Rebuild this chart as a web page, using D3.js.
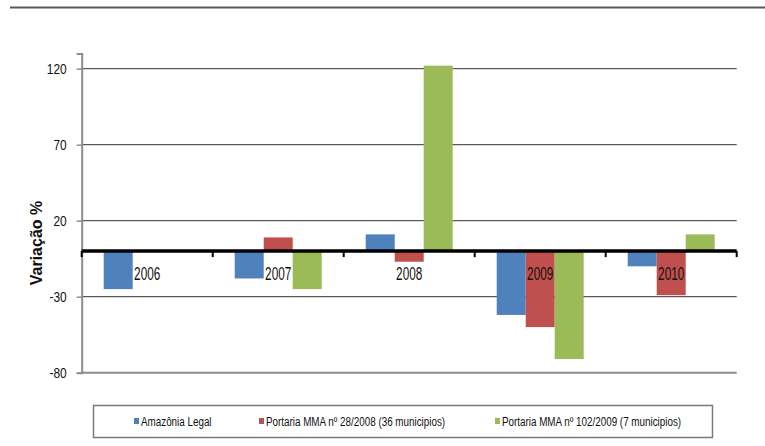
<!DOCTYPE html>
<html>
<head>
<meta charset="utf-8">
<script src="https://cdn.jsdelivr.net/npm/d3@7"></script>
<style>
  html, body { margin: 0; padding: 0; background: #fff; }
  svg { display: block; }
  text { font-family: Arial, "Liberation Sans", sans-serif; }
</style>
</head>
<body>
<svg id="chart" width="765" height="446"></svg>
<script>
const categories = ["2006", "2007", "2008", "2009", "2010"];
const seriesNames = [
  "Amazônia Legal",
  "Portaria MMA nº 28/2008 (36 municipios)",
  "Portaria MMA nº 102/2009 (7 municipios)"
];
const amazoniaLegal = [-25, -18, 11, -42, -10];
const portaria28 = [null, 9, -7, -50, -29];
const portaria102 = [null, -25, 122, -71, 11];
const yTicks = [-80, -30, 20, 70, 120];
const colors = ["#4F81BD", "#C0504D", "#9BBB59"];

const seriesValues = [amazoniaLegal, portaria28, portaria102];

const svg = d3.select("#chart");

// top rule
svg.append("line").attr("x1", 10).attr("x2", 765).attr("y1", 7.5).attr("y2", 7.5)
  .attr("stroke", "#5a5a5a").attr("stroke-width", 2);

const plotLeft = 81.7, plotRight = 736.7, plotTop = 53.5, plotBottom = 372.7;

const y = d3.scaleLinear().domain([-80, 130]).range([plotBottom, plotTop]);
const x0 = d3.scaleBand().domain(categories).range([plotLeft, plotRight])
  .paddingInner(0.336).paddingOuter(0.168);
const x1 = d3.scaleBand().domain(d3.range(seriesNames.length)).range([0, x0.bandwidth()]);

// gridlines
svg.append("g").selectAll("line").data(yTicks.filter(t => t !== -80)).join("line")
  .attr("x1", plotLeft).attr("x2", plotRight)
  .attr("y1", d => y(d)).attr("y2", d => y(d))
  .attr("stroke", "#333").attr("stroke-width", 1);

// bottom axis line at -80
svg.append("line").attr("x1", plotLeft).attr("x2", plotRight)
  .attr("y1", y(-80)).attr("y2", y(-80))
  .attr("stroke", "#8c8c8c").attr("stroke-width", 2);

// y axis
const yAxis = d3.axisLeft(y).tickValues(yTicks).tickSize(5).tickPadding(10)
  .tickFormat(d => String(d));
const gy = svg.append("g").attr("transform", `translate(${plotLeft},0)`).call(yAxis);
gy.select(".domain").attr("stroke", "#8c8c8c").attr("stroke-width", 2);
gy.selectAll(".tick line").attr("stroke", "#8c8c8c").attr("stroke-width", 1.5);
gy.selectAll(".tick text")
  .attr("font-size", 14).attr("fill", "#111")
  .attr("font-family", "Arial, 'Liberation Sans', sans-serif")
  .each(function () {
    const t = d3.select(this);
    const xx = +t.attr("x");
    t.attr("x", null).attr("transform", `translate(${xx},0) scale(0.85,1)`);
  });

// bars
const groups = svg.append("g").selectAll("g").data(categories).join("g")
  .attr("transform", d => `translate(${x0(d)},0)`);
groups.selectAll("rect")
  .data((c, i) => seriesValues.map((s, k) => ({ k, v: s[i] })).filter(d => d.v !== null))
  .join("rect")
  .attr("x", d => x1(d.k))
  .attr("width", x1.bandwidth())
  .attr("y", d => Math.min(y(d.v), y(0)))
  .attr("height", d => Math.abs(y(d.v) - y(0)))
  .attr("fill", d => colors[d.k]);

// zero axis (thick) with category tick marks
svg.append("line").attr("x1", plotLeft).attr("x2", plotRight)
  .attr("y1", y(0)).attr("y2", y(0))
  .attr("stroke", "#000").attr("stroke-width", 3.5);
const boundaries = categories.map(c => x0(c) - x0.step() * x0.paddingInner() / 2).concat([plotRight]);
svg.append("g").selectAll("line").data(boundaries).join("line")
  .attr("x1", d => d).attr("x2", d => d)
  .attr("y1", y(0)).attr("y2", y(0) + 6)
  .attr("stroke", "#000").attr("stroke-width", 2);

// category labels
svg.append("g").selectAll("text").data(categories).join("text")
  .attr("transform", d => `translate(${x0(d) + x0.bandwidth() / 2},${y(0) + 29}) scale(0.62,1)`)
  .attr("text-anchor", "middle")
  .attr("font-size", 19).attr("fill", "#111")
  .text(d => d);

// y title
svg.append("text")
  .attr("transform", "translate(42,243) rotate(-90)")
  .attr("text-anchor", "middle")
  .attr("font-size", 16).attr("font-weight", "bold").attr("fill", "#111")
  .text("Variação %");

// legend
svg.append("rect").attr("x", 93.5).attr("y", 405.5).attr("width", 619).attr("height", 32)
  .attr("fill", "#fff").attr("stroke", "#7a7a7a").attr("stroke-width", 1.5);
const legendX = [134, 259, 495];
const lg = svg.append("g").selectAll("g").data(seriesNames).join("g")
  .attr("transform", (d, i) => `translate(${legendX[i]},421)`);
lg.append("rect").attr("x", 0).attr("y", -3).attr("width", 5).attr("height", 6)
  .attr("fill", (d, i) => colors[i]);
lg.append("text").attr("x", 0).attr("y", 5)
  .attr("transform", "translate(7,0) scale(0.73,1)")
  .attr("font-size", 13.5).attr("fill", "#111")
  .text(d => d);
</script>
</body>
</html>
